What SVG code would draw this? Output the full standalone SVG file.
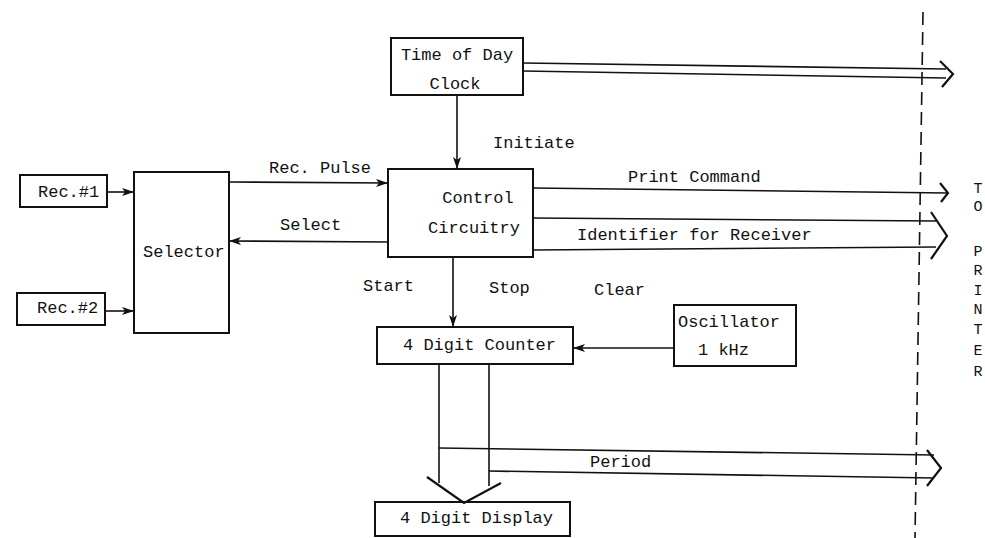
<svg xmlns="http://www.w3.org/2000/svg" width="985" height="538" viewBox="0 0 985 538">
<defs>
<style>
.box{fill:#fff;stroke:#111;stroke-width:2}
.ln{fill:none;stroke:#111;stroke-width:1.6}
.ch{fill:none;stroke:#111;stroke-width:2.2;stroke-linejoin:miter}
.dash{fill:none;stroke:#111;stroke-width:1.6;stroke-dasharray:13 7}
text{font-family:"Liberation Mono","DejaVu Sans Mono",monospace;font-size:17px;fill:#111}
.mid{text-anchor:middle}
.v{font-size:15px;text-anchor:middle}
</style>
<marker id="arr" markerUnits="userSpaceOnUse" viewBox="0 0 12 8" refX="12" refY="4" markerWidth="12" markerHeight="8" orient="auto">
<path d="M0,0 L12,4 L0,8 L3,4 z" fill="#111"/>
</marker>
</defs>
<rect width="985" height="538" fill="#fff"/>

<g id="clock">
<rect class="box" x="391" y="38" width="132" height="57"/>
<text class="mid" x="457" y="60">Time of Day</text>
<text class="mid" x="455" y="89">Clock</text>
</g>
<g id="control">
<rect class="box" x="388" y="169" width="145" height="88"/>
<text class="mid" x="478" y="203">Control</text>
<text class="mid" x="474" y="233">Circuitry</text>
</g>
<g id="selector">
<rect class="box" x="134" y="172" width="95" height="161"/>
<text x="143" y="257">Selector</text>
</g>
<g id="rec1">
<rect class="box" x="20" y="175" width="87" height="32"/>
<text x="38" y="197">Rec.#1</text>
</g>
<g id="rec2">
<rect class="box" x="17" y="293" width="88" height="32"/>
<text x="37" y="313">Rec.#2</text>
</g>
<g id="counter">
<rect class="box" x="377" y="327" width="196" height="37"/>
<text x="403" y="350">4 Digit Counter</text>
</g>
<g id="oscillator">
<rect class="box" x="674" y="305" width="122" height="61"/>
<text x="678" y="327">Oscillator</text>
<text x="698" y="355">1 kHz</text>
</g>
<g id="display">
<rect class="box" x="375" y="502" width="195" height="34"/>
<text x="400" y="523">4 Digit Display</text>
</g>
<g id="printer">
<text class="v" x="978" y="193">T</text>
<text class="v" x="978" y="211">O</text>
<text class="v" x="978" y="256">P</text>
<text class="v" x="978" y="275">R</text>
<text class="v" x="978" y="295">I</text>
<text class="v" x="978" y="314">N</text>
<text class="v" x="978" y="334">T</text>
<text class="v" x="978" y="355">E</text>
<text class="v" x="978" y="376">R</text>
</g>

<g id="connectors">
<line class="dash" x1="923" y1="12" x2="915" y2="538"/>
<line class="ln" x1="523" y1="63" x2="946" y2="69"/>
<line class="ln" x1="523" y1="71" x2="946" y2="78"/>
<polyline class="ch" points="940,61 953,74 942,87"/>
<line class="ln" x1="457" y1="95" x2="457" y2="169" marker-end="url(#arr)"/>
<text x="493" y="148">Initiate</text>
<line class="ln" x1="107" y1="192" x2="134" y2="192" marker-end="url(#arr)"/>
<line class="ln" x1="105" y1="311" x2="134" y2="311" marker-end="url(#arr)"/>
<line class="ln" x1="229" y1="182" x2="388" y2="183" marker-end="url(#arr)"/>
<text x="269" y="173">Rec. Pulse</text>
<line class="ln" x1="388" y1="242" x2="229" y2="241" marker-end="url(#arr)"/>
<text x="280" y="230">Select</text>
<line class="ln" x1="533" y1="188" x2="947" y2="193"/>
<polyline class="ch" points="940,183 948,193 941,202"/>
<text x="628" y="182">Print Command</text>
<line class="ln" x1="533" y1="218" x2="936" y2="221"/>
<line class="ln" x1="533" y1="250" x2="936" y2="247"/>
<polyline class="ch" points="931,212 947,236 931,259"/>
<text x="577" y="240">Identifier for Receiver</text>
<line class="ln" x1="453" y1="257" x2="453" y2="327" marker-end="url(#arr)"/>
<text x="363" y="291">Start</text>
<text x="489" y="293">Stop</text>
<text x="594" y="295">Clear</text>
<line class="ln" x1="674" y1="348" x2="573" y2="348" marker-end="url(#arr)"/>
<line class="ln" x1="439" y1="364" x2="439" y2="483"/>
<line class="ln" x1="489" y1="364" x2="489" y2="486"/>
<polyline class="ch" points="427,477 464,503 501,483"/>
<line class="ln" x1="439" y1="448" x2="934" y2="455"/>
<line class="ln" x1="489" y1="471" x2="934" y2="478"/>
<polyline class="ch" points="927,450 941,468 927,486"/>
<text x="590" y="467">Period</text>
</g>
</svg>
